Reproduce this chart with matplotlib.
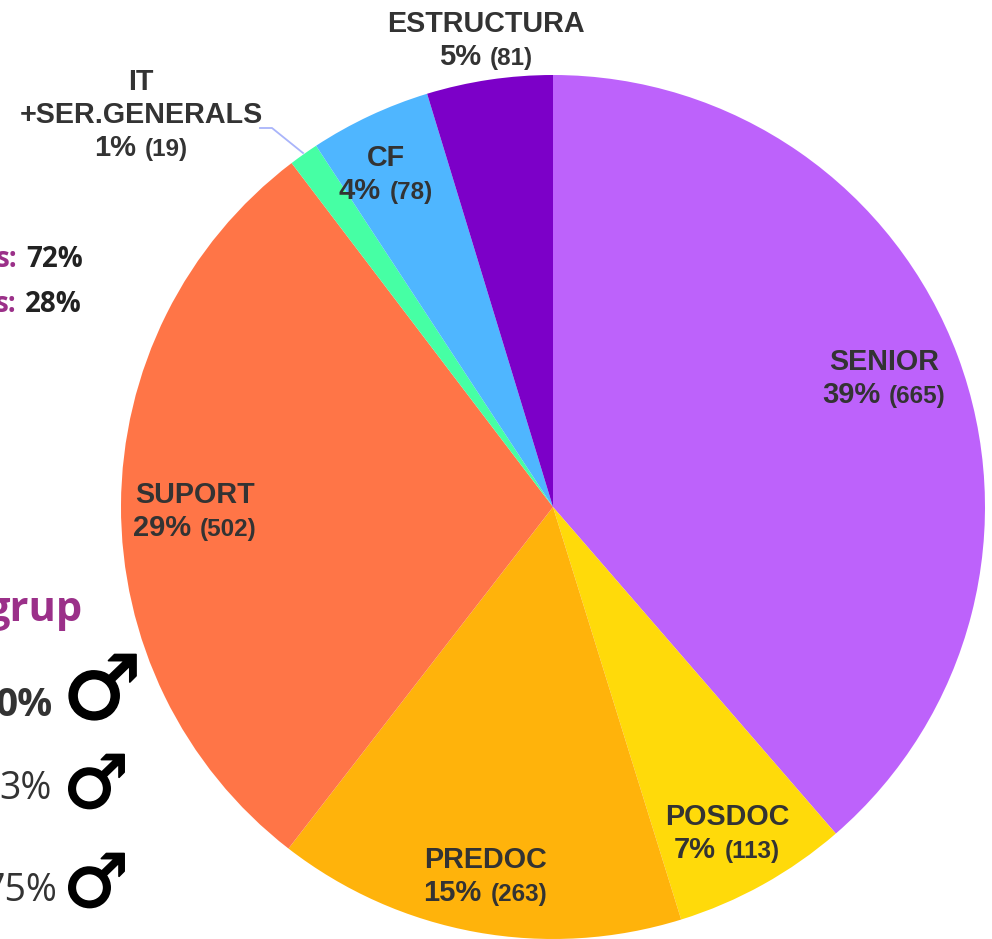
import matplotlib
matplotlib.use('Agg')
import matplotlib.pyplot as plt
import matplotlib.patheffects as pe

W, H = 992, 939

# Slices, clockwise from the top
groups = ['SENIOR', 'POSDOC', 'PREDOC', 'SUPORT', 'IT\n+SER.GENERALS', 'CF', 'ESTRUCTURA']
counts = [665, 113, 263, 502, 19, 78, 81]
percents = [39, 7, 15, 29, 1, 4, 5]
colors = ['#BD62FB', '#FFDA0A', '#FFB30B', '#FF7547', '#46FFA4', '#4FB6FF', '#7C00C8']

# Label anchors in pixels: centre x, baseline of the last line
label_x = [884, 727, 485, 195, 141, 386, 486]
label_y = [403, 858, 901, 536, 156, 199, 65]

TEXT = '#333333'
PURPLE = '#9B3089'
INK = '#222222'


def py(y):
    """Pixel row to axes y"""
    return H - y


fig = plt.figure(figsize=(W / 100, H / 100), dpi=100)
ax = fig.add_axes([0, 0, 1, 1])

ax.pie(counts, colors=colors, startangle=90, counterclock=False,
       center=(553, py(507)), radius=432, frame=True)
ax.set_xlim(0, W)
ax.set_ylim(0, H)
ax.set_aspect('equal')
ax.axis('off')

# Leader line of the small slice
ax.plot([260, 272, 303], [py(128), py(128), py(153)], color='#A9B4FA', lw=1.3)

# Slice labels
renderer = fig.canvas.get_renderer()
for name, n, pct, x, y in zip(groups, counts, percents, label_x, label_y):
    lines = name.split('\n')
    for i, line in enumerate(reversed(lines)):
        ax.text(x, py(y - 33 * (i + 1)), line, ha='center', va='baseline', color=TEXT,
                family='Liberation Sans', fontweight='bold', fontsize=20.7)
    a = ax.text(0, py(y), f'{pct}%', ha='left', va='baseline', color=TEXT,
                family='Liberation Sans', fontweight='bold', fontsize=21)
    b = ax.text(0, py(y), f'({n})', ha='left', va='baseline', color=TEXT,
                family='Liberation Sans', fontweight='bold', fontsize=17.5)
    wa = a.get_window_extent(renderer).width
    wb = b.get_window_extent(renderer).width
    x0 = x - (wa + 9 + wb) / 2
    a.set_x(x0)
    b.set_x(x0 + wa + 9)

# Text cut off at the left edge
left = dict(family='Open Sans', va='baseline')
ax.text(-4, py(267), 's:', color=PURPLE, fontweight='bold', fontsize=20, **left)
ax.text(26, py(267), '72%', color=INK, fontweight='bold', fontsize=20, **left)
ax.text(-5, py(312), 's:', color=PURPLE, fontweight='bold', fontsize=20, **left)
ax.text(25, py(312), '28%', color=INK, fontweight='bold', fontsize=20, **left)
ax.text(83, py(621), 'grup', color=PURPLE, fontweight='bold', fontsize=30, ha='right', **left)
ax.text(53, py(716), '0%', color='#333333', fontweight='bold', fontsize=28, ha='right', **left)
ax.text(52, py(799), '3%', color='#333333', fontsize=27, ha='right', **left)
ax.text(57, py(901), '75%', color='#333333', fontsize=27, ha='right', **left)

# Male signs
thick = [pe.withStroke(linewidth=1.2, foreground='black')]
ax.text(102, py(694), '♂', family='DejaVu Sans', fontweight='bold', fontsize=64,
        color='black', ha='center', va='center', path_effects=thick)
ax.text(96, py(787), '♂', family='DejaVu Sans', fontweight='bold', fontsize=53,
        color='black', ha='center', va='center', path_effects=thick)
ax.text(96, py(886), '♂', family='DejaVu Sans', fontweight='bold', fontsize=53,
        color='black', ha='center', va='center', path_effects=thick)

fig.savefig('out.png', dpi=100)
